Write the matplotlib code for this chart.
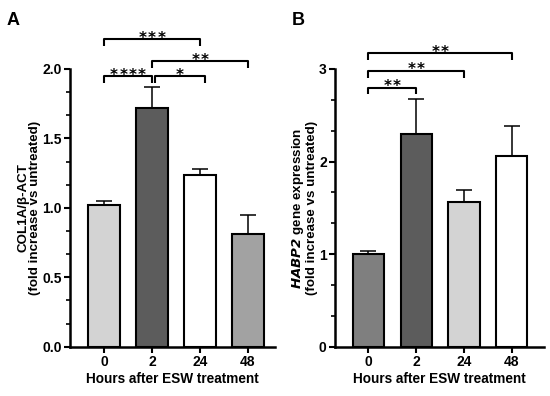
import matplotlib
matplotlib.use("Agg")
import matplotlib.pyplot as plt
import numpy as np
from matplotlib.ticker import MultipleLocator

plt.rcParams['font.family'] = ['Liberation Sans', 'DejaVu Sans']
plt.rcParams['font.weight'] = 'bold'

categories = ['0', '2', '24', '48']

# Panel A
a_values = [1.02, 1.72, 1.235, 0.81]
a_errors = [0.03, 0.15, 0.045, 0.135]
a_colors = ['#d3d3d3', '#5c5c5c', '#ffffff', '#a2a2a2']
a_brackets = [(0, 2, 2.215, '***'), (1, 3, 2.058, '**'), (0, 1, 1.95, '****'), (1, 2, 1.95, '*')]

# Panel B
b_values = [1.0, 2.30, 1.565, 2.065]
b_errors = [0.035, 0.38, 0.125, 0.315]
b_colors = ['#7f7f7f', '#5c5c5c', '#d3d3d3', '#ffffff']
b_brackets = [(0, 3, 3.17, '**'), (0, 2, 2.98, '**'), (0, 1, 2.80, '**')]

fig = plt.figure(figsize=(5.5, 3.96), dpi=100)
W, H = 550, 396

def make_ax(x0, x1, y0, y1):
    return fig.add_axes([x0 / W, 1 - y1 / H, (x1 - x0) / W, (y1 - y0) / H])

axA = make_ax(70, 275, 69, 346.7)
axB = make_ax(335, 544, 69, 346.7)

def draw(ax, vals, errs, cols, brackets, ymax, major, minor, tickdrop, xlim, fmt, ylabel, offsets):
    x = np.arange(len(vals))
    ax.bar(x, vals, width=0.65, color=cols, edgecolor='black', linewidth=1.5, zorder=2)
    ax.errorbar(x, vals, yerr=[np.zeros(len(errs)), errs], fmt='none', ecolor='black',
                elinewidth=1.1, capsize=5.5, capthick=1.1, zorder=1)
    ax.set_xlim(*xlim)
    ax.set_ylim(0, ymax)
    ax.yaxis.set_major_locator(MultipleLocator(major))
    ax.yaxis.set_minor_locator(MultipleLocator(minor))
    ax.yaxis.set_major_formatter(fmt)
    ax.set_xticks(x)
    ax.set_xticklabels(categories, fontsize=10, fontweight='bold')
    for lab in ax.get_yticklabels():
        lab.set_fontsize(10)
        lab.set_fontweight('bold')
    ax.tick_params(axis='both', which='major', length=4, width=1.5, direction='out', pad=2)
    ax.tick_params(axis='y', which='minor', length=3, width=1.2, direction='out')
    ax.tick_params(axis='x', which='minor', length=0)
    for s in ['top', 'right']:
        ax.spines[s].set_visible(False)
    for s in ['left', 'bottom']:
        ax.spines[s].set_linewidth(1.8)
    ax.set_xlabel('Hours after ESW treatment', fontsize=9.8, fontweight='bold', labelpad=2)
    ax.set_ylabel(ylabel, fontsize=9.6, fontweight='bold', labelpad=0.5, linespacing=1.0)
    for (i, j, y, stars) in brackets:
        xi = i + offsets.get((i, j), (0, 0))[0]
        xj = j + offsets.get((i, j), (0, 0))[1]
        ax.plot([xi, xi, xj, xj], [y - tickdrop, y, y, y - tickdrop], color='black',
                lw=1.5, clip_on=False, solid_capstyle='butt')
        n = len(stars)
        for k in range(n):
            dx = (k - (n - 1) / 2) * 6.8
            ax.annotate('*', xy=((xi + xj) / 2, y), xytext=(dx, -2.6),
                        textcoords='offset points', ha='center', va='baseline',
                        fontsize=11, fontweight='bold', family='DejaVu Sans',
                        annotation_clip=False)

draw(axA, a_values, a_errors, a_colors, a_brackets, 2.0, 0.5, 0.5 / 3, 0.05,
     (-0.708, 3.5625), plt.FormatStrFormatter('%.1f'),
     'COL1A/β-ACT\n(fold increase vs untreated)', {(1, 2): (0.06, 0.1)})
draw(axB, b_values, b_errors, b_colors, b_brackets, 3.0, 1.0, 1.0 / 3, 0.075,
     (-0.695, 3.67), plt.FormatStrFormatter('%d'),
     '$\\mathbfit{HABP2}$ gene expression\n(fold increase vs untreated)', {})

fig.text(7 / W, 1 - 25 / H, 'A', fontsize=13, fontweight='bold', va='baseline')
fig.text(292 / W, 1 - 25 / H, 'B', fontsize=13, fontweight='bold', va='baseline')

fig.savefig('out.png', dpi=100)
